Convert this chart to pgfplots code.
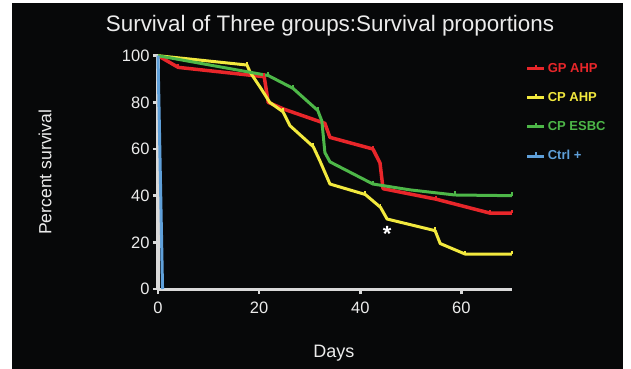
\documentclass[border=0pt]{standalone}
\usepackage{pgfplots}
\pgfplotsset{compat=1.18}
\usepackage{fontspec}
\setmainfont{Liberation Sans}
\definecolor{bg}{HTML}{070809}
\definecolor{axgray}{HTML}{D9D9D9}
\definecolor{txt}{HTML}{ECECEC}
\definecolor{cred}{HTML}{E8262A}
\definecolor{cyel}{HTML}{F2E93E}
\definecolor{cgrn}{HTML}{4DB748}
\definecolor{cblu}{HTML}{5FA0DA}
\pgfdeclareplotmark{cens}{\pgfpathmoveto{\pgfpoint{0pt}{0pt}}\pgfpathlineto{\pgfpoint{0pt}{\pgfplotmarksize}}\pgfusepathqstroke}
\begin{document}
\begin{tikzpicture}
\fill[white] (0bp,0bp) rectangle (631bp,-369bp);
\fill[bg] (12bp,-3bp) rectangle (623bp,-369bp);
\begin{axis}[
  at={(158bp,-289bp)}, anchor=south west,
  scale only axis, width=354bp, height=233.3bp,
  xmin=0, xmax=70, ymin=0, ymax=100,
  axis x line*=bottom, axis y line*=left,
  axis line style={draw=axgray, line width=3bp},
  xtick={0,20,40,60}, ytick={0,20,...,100},
  tick align=outside, major tick length=5bp,
  tick style={draw=axgray, line width=2.5bp},
  ticklabel style={text=txt, font=\fontsize{16.5bp}{18bp}\selectfont},
  xticklabel style={yshift=-4bp},
  /pgf/number format/assume math mode=true,
  clip=false,
  title={Survival of Three groups:Survival proportions},
  title style={at={(0.486,1.105)}, anchor=center, text=txt, font=\fontsize{22.4bp}{24bp}\selectfont},
  xlabel={Days}, ylabel={Percent survival},
  xlabel style={at={(0.497,-0.275)}, anchor=center, text=txt, font=\fontsize{18bp}{20bp}\selectfont},
  ylabel style={at={(-0.319,0.5)}, anchor=center, rotate=0, text=txt, font=\fontsize{17.6bp}{20bp}\selectfont},
  legend style={at={(1.03,0.985)}, anchor=north west, draw=none, fill=none,
    font=\bfseries\fontsize{13bp}{15bp}\selectfont, row sep=14.5bp},
  legend cell align=left,
  legend image code/.code={\draw[#1, line width=3bp] (0bp,0bp) -- (17bp,0bp); \draw[#1, line width=2bp] (8.5bp,0bp) -- (8.5bp,4bp);},
  line join=round,
]
\addplot[cred, line width=3.5bp] coordinates {
(0,100) (4,95) (21,91) (21.8,80) (25,77) (33,71) (34,65) (42.5,60) (43.9,54) (44.5,43) (55,38.5) (65.7,32.5) (70,32.5)};
\addlegendentry{\textcolor{cred}{GP AHP}}
\addplot[cyel, line width=3bp] coordinates {
(0,100) (17.6,96) (18.2,93) (20.2,86.5) (22.1,80) (24.7,76) (26.1,70) (30.7,61) (32,55) (34,45) (41,40.5) (44,35) (45.3,30) (54.8,25) (55.8,19.5) (60.7,15) (70,15)};
\addlegendentry{\textcolor{cyel}{CP AHP}}
\addplot[cgrn, line width=3bp] coordinates {
(0,100) (21.8,91.5) (26.7,86) (31.6,76.5) (32.4,72) (33,58.5) (34,54.5) (42.5,45) (49.8,42.5) (58.7,40.3) (70,40)};
\addlegendentry{\textcolor{cgrn}{CP ESBC}}
\addplot[cblu, line width=3bp] coordinates {(0,100) (0.9,0)};
\addlegendentry{\textcolor{cblu}{Ctrl +}}
\addplot[cred, line width=1.8bp, only marks, mark=cens, mark size=3.5bp, forget plot] coordinates {
(4,95) (21,91) (42.5,60) (55,38.5) (65.7,32.5) (70,32.5)};
\addplot[cyel, line width=1.8bp, only marks, mark=cens, mark size=3.5bp, forget plot] coordinates {
(17.6,96) (24.7,76) (30.7,61) (41,40.5) (44,35) (54.8,25) (60.7,15) (70,15)};
\addplot[cgrn, line width=1.8bp, only marks, mark=cens, mark size=3.5bp, forget plot] coordinates {
(21.8,91.5) (26.7,86) (31.6,76.5) (42.5,45) (58.7,40.3) (70,40)};
\node[text=white, font=\bfseries\fontsize{22bp}{22bp}\selectfont] at (axis cs:45.3,23.5) {*};
\end{axis}
\end{tikzpicture}
\end{document}
